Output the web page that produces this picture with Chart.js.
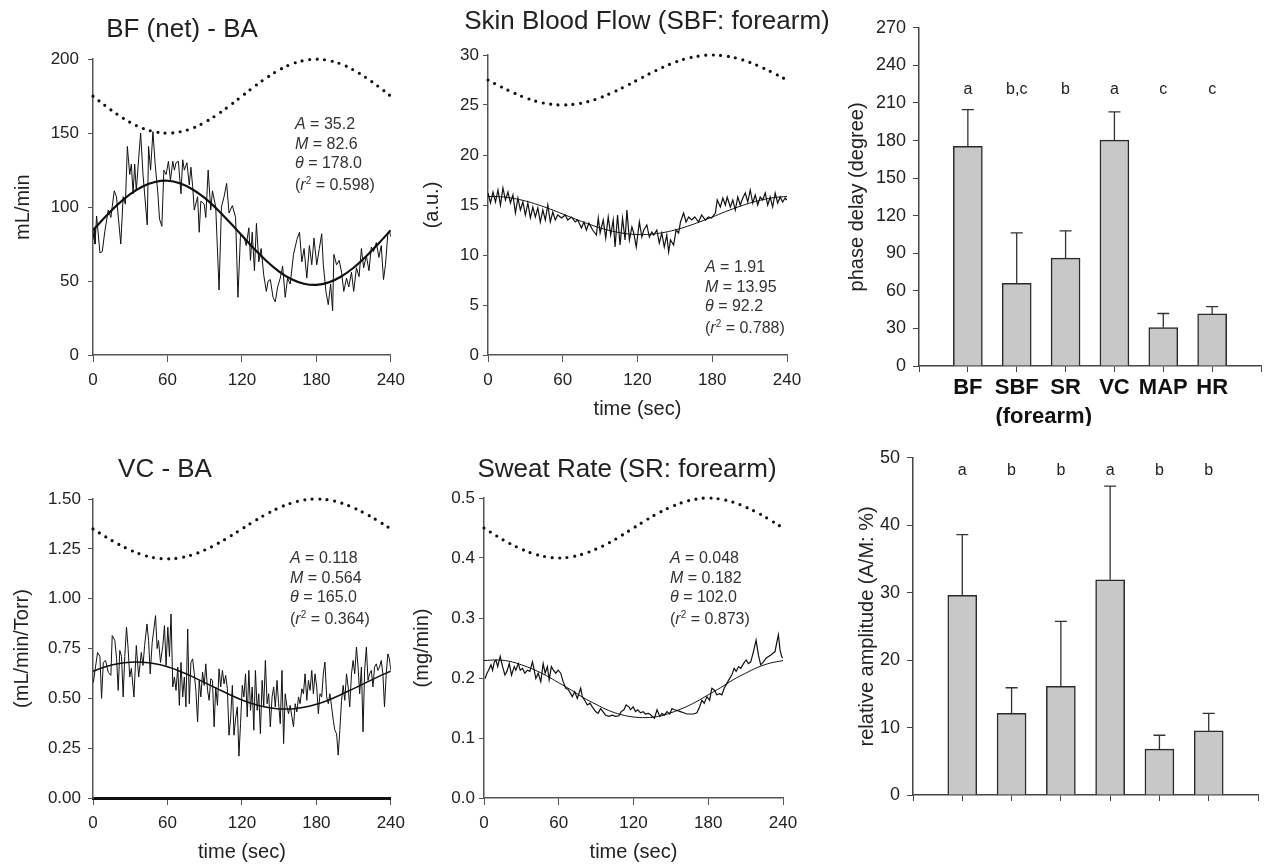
<!DOCTYPE html>
<html>
<head>
<meta charset="utf-8">
<script src="https://cdn.jsdelivr.net/npm/chart.js@4.4.1/dist/chart.umd.min.js"></script>
<style>
  body { margin: 0; background: #fff; width: 1264px; height: 864px; overflow: hidden; position: relative;
         font-family: "Liberation Sans", Arial, sans-serif; color: #222; }
  canvas { position: absolute; }
  .ttl { position: absolute; white-space: nowrap; line-height: 1; transform: translate(-50%, -50%); font-size: 26px; }
  .note { position: absolute; white-space: nowrap; line-height: 1; transform: translateY(-50%); font-size: 16px; color: #333; }
  .note sup { font-size: 10px; line-height: 0; }
</style>
</head>
<body>
<canvas id="bf" width="413" height="355" style="left:0px;top:40px"></canvas>
<canvas id="sbf" width="410" height="381" style="left:405px;top:40px"></canvas>
<canvas id="vc" width="413" height="384" style="left:0px;top:480px"></canvas>
<canvas id="sr" width="410" height="384" style="left:405px;top:480px"></canvas>
<canvas id="phase" width="424" height="416" style="left:840px;top:10px"></canvas>
<canvas id="amp" width="424" height="380" style="left:840px;top:440px"></canvas>

<div class="ttl" style="left:182px;top:28px">BF (net) - BA</div>
<div class="ttl" style="left:647px;top:20px">Skin Blood Flow (SBF: forearm)</div>
<div class="ttl" style="left:165px;top:468px">VC - BA</div>
<div class="ttl" style="left:627px;top:468px">Sweat Rate (SR: forearm)</div>

<script>
// time grid for the fitted sine curves and the forcing curve (dotted)
const fitTime = [0, 10, 20, 30, 40, 50, 60, 70, 80, 90, 100, 110, 120, 130, 140, 150, 160, 170, 180, 190, 200, 210, 220, 230, 240];

// BF (net) - BA, mL/min
const bfTime = [0, 1.1, 1.6, 2.9, 5.6, 7.5, 9.6, 12.3, 14.4, 17.1, 18.9, 22.4, 24.3, 26.1, 27.7, 29.6, 30.9, 32.3, 33.6, 34.9,
  36.8, 38.4, 40.3, 43.7, 44.8, 46.4, 48.3, 50.1, 52.3, 53.6, 55.5, 57.1, 58.9, 60.8, 62.4, 64.3, 65.6, 66.9, 68.8, 70.9,
  72.3, 73.6, 75.7, 77.6, 78.9, 80.3, 81.6, 84.3, 85.6, 86.9, 89.6, 90.9, 92.8, 94.9, 96.3, 98.9, 101.6, 103.5, 105.6, 107.7,
  109.6, 112.3, 114.9, 116.8, 118.9, 121.6, 123.5, 125.6, 126.9, 128.3, 130.1, 131.7, 133.6, 135.5, 137.6, 139.7, 141.1, 142.9, 145.1, 146.9,
  148.8, 150.9, 152.8, 154.9, 156.8, 158.9, 161.6, 164.3, 166.4, 168.3, 170.1, 172.3, 174.4, 176.3, 178.1, 180.3, 182.4, 184.3, 185.6, 187.7,
  189.6, 191.5, 193.1, 194.1, 196.3, 198.4, 200.3, 202.1, 204.3, 206.1, 208.3, 210.1, 212.3, 214.4, 216.3, 218.1, 220.3, 222.4, 224.3, 226.1,
  228.3, 230.4, 232.3, 234.1, 235.7, 237.6, 238.9, 240];
const bfFlow = [78, 86, 75, 94, 69, 70, 84, 98, 93, 111, 107, 75, 107, 102, 141, 122, 129, 109, 129, 111,
  133, 150, 122, 88, 141, 125, 151, 129, 109, 92, 87, 125, 122, 131, 118, 131, 125, 130, 131, 109,
  132, 125, 130, 115, 127, 114, 98, 107, 83, 104, 102, 93, 125, 98, 111, 100, 44, 100, 107, 116,
  96, 101, 93, 39, 82, 80, 74, 86, 64, 83, 57, 89, 63, 72, 54, 43, 50, 51, 39, 36,
  46, 52, 60, 39, 52, 48, 68, 78, 83, 63, 72, 52, 74, 61, 79, 61, 72, 82, 61, 43,
  34, 48, 30, 68, 61, 64, 56, 43, 52, 46, 56, 43, 59, 53, 72, 59, 67, 57, 73, 70,
  76, 66, 74, 51, 61, 82, 84, 80];
const bfFit = [84.4, 93.5, 101.8, 108.8, 114.0, 117.0, 117.8, 116.1, 112.1, 106.2, 98.6, 89.9, 80.8, 71.7, 63.4, 56.4, 51.2, 48.2, 47.4, 49.1, 53.1, 59.0, 66.6, 75.3, 84.4];
const bfForcing = [175, 168.5, 162.5, 157.3, 153.3, 150.9, 150, 150.9, 153.3, 157.3, 162.5, 168.5, 175, 181.5, 187.5, 192.7, 196.7, 199.1, 200, 199.1, 196.7, 192.7, 187.5, 181.5, 175];

// Skin blood flow, a.u.
const sbfTime = [0, 2, 4, 6, 8, 10, 12, 14, 16, 18, 20, 22, 24, 26, 28, 30, 32, 34, 36, 38,
  40, 42, 44, 46, 48, 50, 52, 54, 56, 59, 62, 64, 67, 70, 72, 75, 77, 79, 81, 84,
  87, 88.5, 90, 92.5, 94.5, 96.5, 98.5, 100.5, 102, 104, 106, 108, 110, 111.5, 113.5, 115.5, 117, 119, 121.5, 123.5,
  125, 127.5, 129.5, 131.5, 133, 135.5, 137.5, 139.5, 141.5, 143.5, 145, 146.5, 149, 151, 153, 154.5, 157, 159, 161, 163.5,
  166, 169, 171.5, 174.5, 177, 179.5, 182.5, 184, 186.5, 188.5, 190.5, 192, 194.5, 196.5, 198.5, 200.5, 202.5, 204.5, 206.5, 208.5,
  210.5, 212.5, 214.5, 216.5, 218.5, 220.5, 222.5, 224.5, 226.5, 228.5, 230.5, 232.5, 234.5, 236.5, 238.5, 240];
const sbfFlow = [16.2, 15.2, 16.3, 15.3, 16.5, 15.0, 16.7, 15.5, 16.3, 15.2, 16.0, 14.2, 15.7, 14.5, 15.3, 14.0, 15.2, 13.7, 14.8, 13.8,
  14.7, 13.3, 14.5, 13.5, 15.0, 13.3, 14.3, 13.5, 14.0, 13.7, 14.0, 13.5, 13.8, 13.3, 13.5, 12.7, 13.3, 12.5, 13.2, 12.5,
  12.0, 13.7, 12.2, 13.5, 11.7, 13.8, 12.0, 13.5, 10.8, 14.0, 11.0, 13.7, 11.5, 14.5, 11.5, 12.8, 12.2, 10.8, 13.3, 11.8,
  12.5, 13.0, 11.8, 12.3, 12.0, 12.5, 11.2, 12.2, 10.8, 12.0, 10.3, 11.5, 11.0, 12.5, 12.2, 13.3, 14.2, 13.3, 13.8, 13.5,
  13.8, 13.3, 14.0, 13.5, 13.8, 13.7, 14.2, 15.5, 14.8, 15.7, 15.0, 15.8, 14.8, 15.5, 14.5, 15.8, 15.0, 15.7, 16.2, 15.3,
  16.5, 15.2, 16.0, 15.0, 15.8, 15.5, 16.2, 15.0, 15.8, 14.8, 16.2, 15.2, 15.8, 15.3, 15.7, 15.5];
const sbfFit = [15.85, 15.83, 15.67, 15.40, 15.03, 14.59, 14.10, 13.60, 13.13, 12.71, 12.38, 12.15, 12.05, 12.07, 12.23, 12.50, 12.87, 13.31, 13.80, 14.30, 14.77, 15.19, 15.52, 15.75, 15.85];
const sbfForcing = [27.5, 26.85, 26.25, 25.73, 25.33, 25.09, 25, 25.09, 25.33, 25.73, 26.25, 26.85, 27.5, 28.15, 28.75, 29.27, 29.67, 29.91, 30, 29.91, 29.67, 29.27, 28.75, 28.15, 27.5];

// VC - BA, mL/min/Torr
const vcTime = [0.3, 1.6, 3.7, 5.6, 6.9, 8.3, 10.1, 12.3, 14.4, 15.5, 17.6, 19, 20.3, 21.6, 23, 24.3, 25.6, 27, 28.3, 29.6,
  30.9, 33, 34.9, 36.8, 38.9, 40.3, 41.6, 43.5, 44.8, 46.1, 47.7, 49.1, 50.4, 51.7, 52.8, 54.4, 56.3, 57.6, 58.9, 60.3,
  61.6, 62.9, 64.3, 65.6, 66.9, 68.3, 69.6, 70.9, 72.3, 73.6, 74.9, 76.3, 77.6, 78.9, 80.3, 81.6, 82.9, 84.3, 85.6, 86.9,
  88.3, 89.6, 90.9, 92.3, 93.6, 94.9, 96.3, 97.6, 98.9, 100.3, 101.6, 102.9, 104.3, 105.6, 106.9, 108.3, 109.6, 110.9, 112.3, 113.6,
  114.9, 116.3, 117.6, 118.9, 120.3, 121.6, 122.9, 124.3, 125.6, 126.9, 128.3, 129.6, 130.9, 132.3, 133.6, 134.9, 136.3, 137.6, 138.9, 140.3,
  141.6, 142.9, 144.3, 145.6, 146.9, 148.3, 149.6, 150.9, 152.3, 153.6, 154.9, 156.3, 157.6, 158.9, 160.3, 161.6, 162.9, 164.3, 165.6, 166.9,
  168.3, 169.6, 170.9, 172.3, 173.6, 174.9, 176.3, 177.6, 178.9, 180.3, 181.6, 182.9, 184.3, 185.6, 186.9, 188.3, 189.6, 190.9, 192.3, 193.6,
  194.9, 196.3, 197.6, 198.9, 200.3, 201.6, 202.9, 204.3, 205.6, 206.9, 208.3, 209.6, 210.9, 212.3, 213.6, 214.9, 216.3, 217.6, 218.9, 220.3,
  221.6, 222.9, 224.3, 225.6, 226.9, 228.3, 229.6, 230.9, 232.3, 233.6, 234.9, 236.3, 237.6, 238.9, 240];
const vcValue = [0.58, 0.64, 0.73, 0.71, 0.50, 0.68, 0.69, 0.63, 0.615, 0.815, 0.79, 0.70, 0.54, 0.74, 0.71, 0.507, 0.71, 0.857, 0.75, 0.607,
  0.65, 0.507, 0.765, 0.607, 0.73, 0.665, 0.765, 0.873, 0.79, 0.623, 0.78, 0.848, 0.915, 0.75, 0.79, 0.68, 0.765, 0.865, 0.665, 0.857,
  0.71, 0.923, 0.557, 0.607, 0.54, 0.657, 0.465, 0.68, 0.507, 0.607, 0.457, 0.848, 0.473, 0.68, 0.698, 0.623, 0.54, 0.382, 0.59, 0.507,
  0.632, 0.565, 0.673, 0.54, 0.49, 0.598, 0.59, 0.357, 0.557, 0.465, 0.648, 0.557, 0.64, 0.573, 0.615, 0.548, 0.315, 0.398, 0.565, 0.315,
  0.398, 0.457, 0.21, 0.373, 0.565, 0.507, 0.623, 0.407, 0.64, 0.44, 0.557, 0.34, 0.64, 0.44, 0.523, 0.323, 0.59, 0.457, 0.69, 0.473,
  0.523, 0.357, 0.507, 0.557, 0.457, 0.59, 0.473, 0.373, 0.64, 0.273, 0.523, 0.457, 0.423, 0.465, 0.407, 0.357, 0.473, 0.432, 0.507, 0.473,
  0.548, 0.523, 0.623, 0.49, 0.59, 0.54, 0.64, 0.523, 0.623, 0.557, 0.423, 0.523, 0.507, 0.623, 0.682, 0.507, 0.473, 0.523, 0.457, 0.39,
  0.34, 0.323, 0.215, 0.34, 0.49, 0.565, 0.49, 0.623, 0.557, 0.457, 0.623, 0.69, 0.623, 0.757, 0.657, 0.523, 0.657, 0.332, 0.64, 0.757,
  0.59, 0.623, 0.64, 0.557, 0.657, 0.673, 0.64, 0.657, 0.69, 0.623, 0.457, 0.623, 0.723, 0.698, 0.64];
const vcFit = [0.636, 0.658, 0.673, 0.681, 0.681, 0.673, 0.658, 0.636, 0.609, 0.579, 0.549, 0.519, 0.492, 0.470, 0.455, 0.447, 0.447, 0.455, 0.470, 0.492, 0.519, 0.549, 0.579, 0.609, 0.636];
const vcForcing = [1.35, 1.311, 1.275, 1.244, 1.22, 1.205, 1.2, 1.205, 1.22, 1.244, 1.275, 1.311, 1.35, 1.389, 1.425, 1.456, 1.48, 1.495, 1.5, 1.495, 1.48, 1.456, 1.425, 1.389, 1.35];

// Sweat rate, mg/min
const srTime = [0.8, 2.4, 3.7, 5.6, 6.9, 8.3, 9.6, 11, 13, 14.9, 16.8, 18.4, 20.3, 22.1, 24.3, 25.6, 27.5, 29.1, 30.9, 32.8,
  34.9, 36.8, 38.9, 40.3, 41.6, 43.5, 45.6, 47.5, 49.1, 50.9, 52.3, 54.1, 55.7, 57.6, 59.5, 61.6, 63.5, 65.6, 67.5, 69.6,
  70.9, 72.8, 74.9, 77.6, 78.9, 80.8, 82.9, 85.1, 86.9, 89.6, 91.5, 93.6, 95.5, 97.6, 100.3, 102.9, 105.6, 108.3, 110.1, 112.3,
  114.1, 116.3, 117.6, 119.7, 121.6, 123.5, 125.6, 127.7, 129.6, 132.3, 134.1, 136.8, 138.9, 141.1, 142.9, 144.8, 146.9, 149.1, 150.9, 152.8,
  154.9, 157.6, 160.3, 162.9, 165.6, 168.3, 170.9, 173.1, 174.9, 176.8, 178.9, 181.1, 182.9, 184.8, 186.9, 189.1, 190.9, 192.8, 194.9, 197.1,
  198.9, 200.8, 202.4, 204.3, 206.1, 208.3, 210.4, 212.3, 214.1, 216.3, 218.4, 220.3, 222.1, 224.3, 226.4, 228.3, 230.1, 231.7, 233.6, 234.9,
  236.3, 237.6, 238.9, 239.7];
const srValue = [0.199, 0.208, 0.213, 0.222, 0.213, 0.227, 0.23, 0.219, 0.236, 0.219, 0.205, 0.211, 0.224, 0.205, 0.219, 0.213, 0.224, 0.213, 0.216, 0.208,
  0.213, 0.211, 0.227, 0.213, 0.199, 0.208, 0.194, 0.224, 0.208, 0.219, 0.197, 0.219, 0.213, 0.208, 0.213, 0.208, 0.194, 0.183, 0.181, 0.174,
  0.169, 0.177, 0.166, 0.183, 0.169, 0.163, 0.155, 0.158, 0.152, 0.144, 0.141, 0.149, 0.144, 0.138, 0.136, 0.138, 0.136, 0.137, 0.144, 0.147,
  0.155, 0.152, 0.147, 0.152, 0.144, 0.147, 0.142, 0.144, 0.14, 0.141, 0.138, 0.133, 0.147, 0.136, 0.141, 0.138, 0.144, 0.14, 0.149, 0.147,
  0.146, 0.144, 0.142, 0.14, 0.14, 0.14, 0.142, 0.152, 0.163, 0.158, 0.169, 0.163, 0.183, 0.18, 0.172, 0.174, 0.172, 0.183, 0.191, 0.199,
  0.205, 0.216, 0.211, 0.219, 0.216, 0.224, 0.23, 0.224, 0.227, 0.244, 0.263, 0.238, 0.222, 0.227, 0.233, 0.236, 0.238, 0.241, 0.244, 0.258,
  0.272, 0.247, 0.236, 0.233];
const srFit = [0.229, 0.230, 0.228, 0.222, 0.214, 0.204, 0.192, 0.180, 0.167, 0.156, 0.146, 0.139, 0.135, 0.134, 0.136, 0.142, 0.150, 0.160, 0.172, 0.184, 0.197, 0.208, 0.218, 0.225, 0.229];
const srForcing = [0.45, 0.437, 0.425, 0.415, 0.407, 0.402, 0.4, 0.402, 0.407, 0.415, 0.425, 0.437, 0.45, 0.463, 0.475, 0.485, 0.493, 0.498, 0.5, 0.498, 0.493, 0.485, 0.475, 0.463, 0.45];

// fit results printed in each panel (BF, SBF, VC, SR)
const fitA = ['35.2', '1.91', '0.118', '0.048'];
const fitM = ['82.6', '13.95', '0.564', '0.182'];
const fitTheta = ['178.0', '92.2', '165.0', '102.0'];
const fitR2 = ['0.598', '0.788', '0.364', '0.873'];

// group bars
const barNames = ['BF', 'SBF', 'SR', 'VC', 'MAP', 'HR'];
const phaseDelay = [175.3, 65.9, 86.1, 180.3, 30.6, 41.6];
const phaseSD = [29.3, 40.3, 21.7, 22.5, 11.3, 5.8];
const phaseLetters = ['a', 'b,c', 'b', 'a', 'c', 'c'];
const relAmp = [29.6, 12.1, 16.1, 31.9, 6.8, 9.5];
const relAmpSD = [9.0, 3.8, 9.65, 13.9, 2.06, 2.6];
const relAmpLetters = ['a', 'b', 'b', 'a', 'b', 'b'];

Chart.defaults.font.family = '"Liberation Sans", Arial, sans-serif';
Chart.defaults.color = '#222';

function xy(t, v) {
  return t.map((x, i) => ({ x: x, y: v[i] }));
}

function linePanel(id, t, v, fit, forcing, p) {
  new Chart(document.getElementById(id), {
    type: 'line',
    data: {
      datasets: [
        { data: xy(t, v), borderColor: '#111', borderWidth: p.dataWidth, pointRadius: 0, tension: 0 },
        { data: xy(fitTime, fit), borderColor: '#111', borderWidth: p.fitWidth, pointRadius: 0, tension: 0.4 },
        { data: xy(fitTime, forcing), borderColor: '#111', borderWidth: 3.2, borderDash: [0, 7.5],
          borderCapStyle: 'round', pointRadius: 0, tension: 0.4, clip: false }
      ]
    },
    options: {
      responsive: false, animation: false, events: [],
      layout: { padding: { top: p.padTop, right: p.padRight, left: 0, bottom: 0 } },
      plugins: { legend: { display: false }, tooltip: { enabled: false } },
      scales: {
        x: {
          type: 'linear', min: 0, max: 240,
          ticks: { stepSize: 60, padding: 8, maxRotation: 0, font: { size: 17 } },
          grid: { drawOnChartArea: false, tickLength: 7, color: '#555' },
          border: { color: p.xAxisColor || '#555', width: p.xAxisWidth || 1.5 },
          title: { display: !!p.xTitle, text: p.xTitle || '', font: { size: 20 }, padding: 0 },
          afterFit: s => { s.height = p.xHeight; }
        },
        y: {
          min: p.yMin, max: p.yMax,
          ticks: { stepSize: p.yStep, padding: p.tickPad, font: { size: 17 }, callback: val => val.toFixed(p.dec) },
          grid: { drawOnChartArea: false, tickLength: 5, color: '#555' },
          border: { color: '#555', width: 1.5 },
          title: { display: true, text: p.yTitle, font: { size: 20 }, padding: { top: p.titlePad, bottom: 0 } },
          afterFit: s => { s.width = p.yWidth; }
        }
      }
    }
  });
}

linePanel('bf', bfTime, bfFlow, bfFit, bfForcing, {
  yMin: 0, yMax: 200, yStep: 50, dec: 0, yTitle: 'mL/min', padTop: 15, padRight: 20, yWidth: 93,
  xHeight: 40, tickPad: 9, titlePad: 11, dataWidth: 1, fitWidth: 2.2
});
linePanel('sbf', sbfTime, sbfFlow, sbfFit, sbfForcing, {
  yMin: 0, yMax: 30, yStep: 5, dec: 0, yTitle: '(a.u.)', xTitle: 'time (sec)', padTop: 15, padRight: 28, yWidth: 83,
  xHeight: 66, tickPad: 4, titlePad: 15, dataWidth: 1.2, fitWidth: 1
});
linePanel('vc', vcTime, vcValue, vcFit, vcForcing, {
  yMin: 0, yMax: 1.5, yStep: 0.25, dec: 2, yTitle: '(mL/min/Torr)', xTitle: 'time (sec)', padTop: 19, padRight: 20, yWidth: 93,
  xHeight: 66, tickPad: 7, titlePad: 10, dataWidth: 1, fitWidth: 1.5, xAxisWidth: 3, xAxisColor: '#111'
});
linePanel('sr', srTime, srValue, srFit, srForcing, {
  yMin: 0, yMax: 0.5, yStep: 0.1, dec: 1, yTitle: '(mg/min)', xTitle: 'time (sec)', padTop: 18, padRight: 32, yWidth: 79,
  xHeight: 66, tickPad: 4, titlePad: 5, dataWidth: 1.2, fitWidth: 1
});

function barPanel(id, values, sds, letters, letterAt, p) {
  const extras = {
    id: 'extras',
    afterDatasetsDraw(chart) {
      const { ctx, scales: { x, y } } = chart;
      ctx.save();
      ctx.strokeStyle = '#333';
      ctx.lineWidth = 1.3;
      values.forEach((v, i) => {
        const px = x.getPixelForValue(i + 1);
        const top = y.getPixelForValue(v + sds[i]);
        ctx.beginPath();
        ctx.moveTo(px, y.getPixelForValue(v));
        ctx.lineTo(px, top);
        ctx.moveTo(px - 6, top);
        ctx.lineTo(px + 6, top);
        ctx.stroke();
      });
      ctx.fillStyle = '#222';
      ctx.font = '16px "Liberation Sans", Arial, sans-serif';
      ctx.textAlign = 'center';
      ctx.textBaseline = 'middle';
      letters.forEach((s, i) => ctx.fillText(s, x.getPixelForValue(i + 1), y.getPixelForValue(letterAt)));
      if (p.subLabel) {
        ctx.font = 'bold 22px "Liberation Sans", Arial, sans-serif';
        ctx.fillStyle = '#111';
        ctx.fillText(p.subLabel, x.getPixelForValue(2) + 27, y.bottom + 51);
      }
      ctx.restore();
    }
  };
  new Chart(document.getElementById(id), {
    type: 'bar',
    data: {
      datasets: [{
        data: values.map((v, i) => ({ x: i + 1, y: v })),
        backgroundColor: '#c8c8c8', borderColor: '#2a2a2a', borderWidth: 1.5, barThickness: 29
      }]
    },
    options: {
      responsive: false, animation: false, events: [],
      layout: { padding: { top: p.padTop, right: p.padRight, left: 0, bottom: 0 } },
      plugins: { legend: { display: false }, tooltip: { enabled: false } },
      scales: {
        x: {
          type: 'linear', min: 0, max: 7, offset: false,
          ticks: {
            stepSize: 1, autoSkip: false, maxRotation: 0, padding: 3, color: '#111',
            font: { size: 22, weight: 'bold' },
            callback: val => (p.showNames ? (barNames[val - 1] || '') : '')
          },
          grid: { offset: false, drawOnChartArea: false, tickLength: 6, color: '#444' },
          border: { color: '#444', width: 1.5 },
          afterFit: s => { s.height = p.xHeight; }
        },
        y: {
          min: 0, max: p.yMax,
          ticks: { stepSize: p.yStep, padding: 7, font: { size: 18 } },
          grid: { drawOnChartArea: false, tickLength: 6, color: '#444' },
          border: { color: '#444', width: 1.5 },
          title: { display: true, text: p.yTitle, font: { size: 20 }, padding: { top: p.titlePad, bottom: 0 } },
          afterFit: s => { s.width = p.yWidth; }
        }
      }
    },
    plugins: [extras]
  });
}

barPanel('phase', phaseDelay, phaseSD, phaseLetters, 221, {
  yMax: 270, yStep: 30, yTitle: 'phase delay (degree)', padTop: 12, padRight: 1, yWidth: 79, xHeight: 60,
  titlePad: 5, showNames: true, subLabel: '(forearm)'
});
barPanel('amp', relAmp, relAmpSD, relAmpLetters, 48.1, {
  yMax: 50, yStep: 10, yTitle: 'relative amplitude (A/M: %)', padTop: 11, padRight: 6, yWidth: 73, xHeight: 25,
  titlePad: 15, showNames: false
});

// fit annotations
const notePos = [[295, 124], [705, 267], [290, 558], [670, 558]];
notePos.forEach(([left, top], i) => {
  const lines = [
    '<i>A</i> = ' + fitA[i],
    '<i>M</i> = ' + fitM[i],
    '<i>&theta;</i> = ' + fitTheta[i],
    '(<i>r</i><sup>2</sup> = ' + fitR2[i] + ')'
  ];
  lines.forEach((html, k) => {
    const d = document.createElement('div');
    d.className = 'note';
    d.style.left = left + 'px';
    d.style.top = (top + k * 19.5 + (k === 3 ? 2 : 0)) + 'px';
    d.innerHTML = html;
    document.body.appendChild(d);
  });
});
</script>
</body>
</html>
